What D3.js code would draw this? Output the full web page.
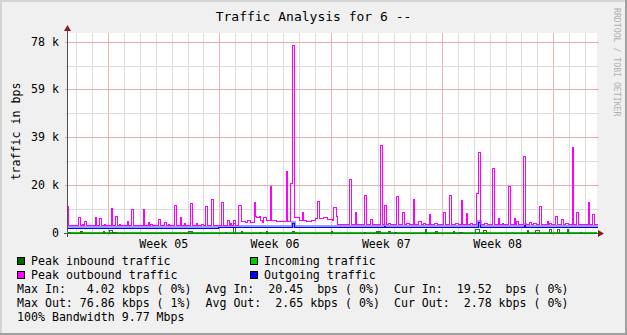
<!DOCTYPE html>
<html><head><meta charset="utf-8">
<script src="https://cdn.jsdelivr.net/npm/d3@7"></script>
<style>
body{margin:0;background:#f0f0f0;}
svg{display:block;}
text{font-family:"DejaVu Sans Mono",monospace;white-space:pre;}
</style></head><body>
<svg id="c" width="627" height="335"></svg>
<script>
// ---------------- data ----------------
const startISO = "2010-01-29T10:00:00Z";   // left edge of the graph
const spanHours = 800;                        // width of graph in hours
const stepHours = 2;                          // consolidation step
const weekLabels = ["Week 05", "Week 06", "Week 07", "Week 08"];
const yTickValues = [0, 19531.25, 39062.5, 58593.75, 78125];
const yTickLabels = ["0", "20 k", "39 k", "59 k", "78 k"];
const yMinorValues = [9765.625, 29296.875, 48828.125, 68359.375];
const yTop = 81700;

// Peak outbound: base levels [fromHour, bps] and spikes [hour, steps, bps]
const peakOutLevels = [[0,3000],[262,4900],[268,4500],[272,5300],[276,4100],[278,4500],
  [284,6700],[286,6200],[290,6700],[292,5100],[294,4500],[296,6200],[300,5100],[310,5000],
  [316,4600],[332,4700],[342,6400],[350,5000],[360,4700],[368,5200],[374,5800],[386,6200],
  [392,5500],[400,5000],[406,6700],[408,3400]];
const peakOutSpikes = [[0,1,10900],[16,2,6200],[22,1,3600],[26,1,4700],[42,1,6400],[48,2,5900],
  [56,1,3500],[66,1,10100],[72,2,6700],[78,1,3600],[90,1,4700],[96,2,9800],[114,1,9600],
  [122,1,4300],[126,1,3500],[138,1,5500],[146,2,4300],[152,1,3500],[162,1,11100],[170,1,6300],
  [176,1,3700],[186,1,12100],[194,1,4000],[202,2,3500],[208,2,10800],[218,1,13900],[232,2,12400],
  [242,1,5000],[246,1,3800],[250,2,5100],[258,2,11200],[282,1,12400],[306,1,18900],[330,1,25000],
  [336,2,20400],[340,1,76860],[354,1,8600],[378,1,12700],[402,2,10300],[426,1,21900],[434,1,8200],
  [448,2,15300],[458,1,5400],[472,2,35900],[478,2,11200],[484,2,3900],[496,2,14900],[506,1,8400],
  [512,2,3700],[522,1,13600],[530,2,4600],[538,1,3900],[546,1,7500],[554,2,3700],[568,1,8500],
  [576,2,15300],[586,2,3700],[594,1,13500],[602,1,8100],[608,2,3900],[618,1,16000],[620,2,32900],
  [630,2,3800],[642,1,26400],[650,1,6000],[656,1,3900],[666,1,19000],[674,1,5900],[678,1,4600],
  [688,2,31500],[698,1,4300],[704,2,3700],[712,2,10800],[724,1,4600],[728,1,3900],[736,2,6700],
  [746,1,5400],[752,2,3700],[762,1,35200],[768,2,8500],[776,2,3500],[786,1,12400],[792,2,7500]];

// Outgoing traffic (blue)
const outLevels = [[0,1900],[228,2200],[300,2100]];
const outSpikes = [[340,1,3900],[478,1,2600],[620,2,4300],[690,1,3000]];

// Incoming traffic (green area)
const inLevels = [[0,20]];
const inSpikes = [];

// Peak inbound (dark green)
const peakInLevels = [[0,0]];
const peakInSpikes = [[2,1,400],[20,1,700],[54,1,700],[64,2,1100],[70,2,300],[182,3,700],
  [238,1,300],[250,2,4020],[262,1,700],[290,1,300],[300,1,700],[340,1,700],[398,1,700],
  [448,1,300],[466,1,700],[470,1,700],[484,2,700],[494,1,300],[540,1,1400],[556,1,700],
  [582,1,700],[592,2,300],[616,3,1400],[628,2,900],[694,1,900],[706,3,900],[728,1,1500],
  [740,1,1500],[754,1,1500],[774,1,300]];

const legendItems = [["Peak inbound traffic","#006600"],["Incoming traffic","#00cc00"],
  ["Peak outbound traffic","#ff00ff"],["Outgoing traffic","#0000ff"]];
const statLines = [
  "Max In:   4.02 kbps ( 0%)  Avg In:  20.45  bps ( 0%)  Cur In:  19.52  bps ( 0%)",
  "Max Out: 76.86 kbps ( 1%)  Avg Out:  2.65 kbps ( 0%)  Cur Out:  2.78 kbps ( 0%)",
  "100% Bandwidth 9.77 Mbps"];
const titleText = "Traffic Analysis for 6 --";
const yLabel = "traffic in bps";
const sideText = "RRDTOOL / TOBI OETIKER";

// ---------------- build ----------------
const start = new Date(startISO);
const end = d3.utcHour.offset(start, spanHours);
function build(levels, spikes){
  const n = spanHours / stepHours, pts = [];
  for(let i=0;i<n;i++){
    const h = i*stepHours;
    let v = 0;
    for(const l of levels) if(l[0] <= h) v = l[1];
    for(const s of spikes) if(h >= s[0] && h < s[0] + s[1]*stepHours) v = s[2];
    pts.push({t: d3.utcHour.offset(start, h), v});
  }
  pts.push({t: end, v: pts[pts.length-1].v});
  return pts;
}
const peakOut = build(peakOutLevels, peakOutSpikes);
const outgoing = build(outLevels, outSpikes);
const incoming = build(inLevels, inSpikes);
const peakIn = build(peakInLevels, peakInSpikes);

const W=627, H=335;
const L=67, R=597, T=33, B=232.5;
const x = d3.scaleUtc().domain([start,end]).range([L,R]);
const y = d3.scaleLinear().domain([0,yTop]).range([B,T]);
const svg = d3.select("#c");

svg.append("rect").attr("width",W).attr("height",H).attr("fill","#f0f0f0");
svg.append("rect").attr("x",0).attr("y",0).attr("width",W).attr("height",2).attr("fill","#d4d4d4");
svg.append("rect").attr("x",0).attr("y",0).attr("width",2).attr("height",H).attr("fill","#d4d4d4");
svg.append("rect").attr("x",W-2).attr("y",0).attr("width",2).attr("height",H).attr("fill","#a0a0a0");
svg.append("rect").attr("x",0).attr("y",H-2).attr("width",W).attr("height",2).attr("fill","#a0a0a0");

// canvas
svg.append("rect").attr("x",L).attr("y",T).attr("width",R-L).attr("height",B-T).attr("fill","#fff");

const g = svg.append("g").attr("shape-rendering","crispEdges");
const px = v => Math.round(v)+0.5;
// vertical day grid
const days = d3.utcDay.range(d3.utcDay.ceil(start), end);
g.selectAll(".vd").data(days).join("line")
  .attr("x1",d=>px(x(d))).attr("x2",d=>px(x(d))).attr("y1",T).attr("y2",B+3)
  .attr("stroke", d => d.getUTCDay()===1 ? "#eab4b4" : "#dcdcdc");
// horizontal grid
g.selectAll(".hm").data(yMinorValues).join("line")
  .attr("x1",L-2).attr("x2",R+2).attr("y1",d=>px(y(d))).attr("y2",d=>px(y(d)))
  .attr("stroke","#dcdcdc");
g.selectAll(".hM").data(yTickValues.slice(1)).join("line")
  .attr("x1",L-2).attr("x2",R+2).attr("y1",d=>px(y(d))).attr("y2",d=>px(y(d)))
  .attr("stroke","#e4adad");

// axes lines
g.append("line").attr("x1",L-3).attr("x2",R+4).attr("y1",px(y(0))).attr("y2",px(y(0))).attr("stroke","#505050");
g.append("line").attr("x1",px(L)).attr("x2",px(L)).attr("y1",B+4).attr("y2",T-4).attr("stroke","#505050");
svg.append("path").attr("d",`M${R+1},${px(y(0))-3.5} L${R+7},${px(y(0))} L${R+1},${px(y(0))+3.5} Z`).attr("fill","#8b1a1a");
svg.append("path").attr("d",`M${px(L)-3.5},${T-2} L${px(L)},${T-8} L${px(L)+3.5},${T-2} Z`).attr("fill","#8b1a1a");

// data
const line = d3.line().x(d=>px(x(d.t))).y(d=>px(y(d.v))).curve(d3.curveStepAfter);
const area = d3.area().x(d=>x(d.t)).y0(y(0)).y1(d=>y(d.v)).curve(d3.curveStepAfter);
g.append("path").datum(incoming).attr("d",area).attr("fill","#00cc00");
g.append("path").datum(peakIn).attr("d",line).attr("fill","none").attr("stroke","#1f7a1f").attr("stroke-width",1);
g.append("path").datum(outgoing).attr("d",line).attr("fill","none").attr("stroke","#9a9aff").attr("stroke-width",2.2).attr("transform","translate(0,-1)");
g.append("path").datum(outgoing).attr("d",line).attr("fill","none").attr("stroke","#0000ff").attr("stroke-width",1);
g.append("path").datum(peakOut).attr("d",line).attr("fill","none").attr("stroke","#ff00ff").attr("stroke-width",1);

// y tick labels
svg.selectAll(".yl").data(yTickValues).join("text")
  .attr("x",59).attr("y",d=>y(d)+4).attr("text-anchor","end")
  .attr("font-size","11.6px").attr("fill","#000").text((d,i)=>yTickLabels[i]);

// week labels
const mondays = d3.utcMonday.range(d3.utcMonday.ceil(start), end);
mondays.forEach((m,i)=>{
  const mid = d3.utcHour.offset(m, 84);
  if(i < weekLabels.length && x(mid) < R){
    svg.append("text").attr("x",x(mid)).attr("y",248).attr("text-anchor","middle")
      .attr("font-size","11.6px").attr("fill","#000").text(weekLabels[i]);
  }
});

// title
svg.append("text").attr("x",313.5).attr("y",21).attr("text-anchor","middle")
  .attr("font-size","13px").attr("fill","#000").text(titleText);
// y label
svg.append("text").attr("transform","translate(20,131.5) rotate(-90)").attr("text-anchor","middle")
  .attr("font-size","11.6px").attr("fill","#000").text(yLabel);
// side text
svg.append("text").attr("transform","translate(613.5,8) rotate(90)").attr("text-anchor","start")
  .attr("font-size","8.2px").attr("fill","#b0b0b0").text(sideText);

// legend
legendItems.forEach((it,i)=>{
  const col = i%2, row = Math.floor(i/2);
  const lx = col===0 ? 17 : 250, ly = 257 + row*14;
  svg.append("rect").attr("x",lx+0.5).attr("y",ly+0.5).attr("width",7).attr("height",7)
    .attr("fill",it[1]).attr("stroke","#000").attr("shape-rendering","crispEdges");
  svg.append("text").attr("x",lx+14).attr("y",ly+8).attr("font-size","11.6px").attr("fill","#000").text(it[0]);
});
statLines.forEach((s,i)=>{
  svg.append("text").attr("x",17).attr("y",293+i*14).attr("font-size","11.6px").attr("fill","#000").text(s);
});
</script>
</body></html>
